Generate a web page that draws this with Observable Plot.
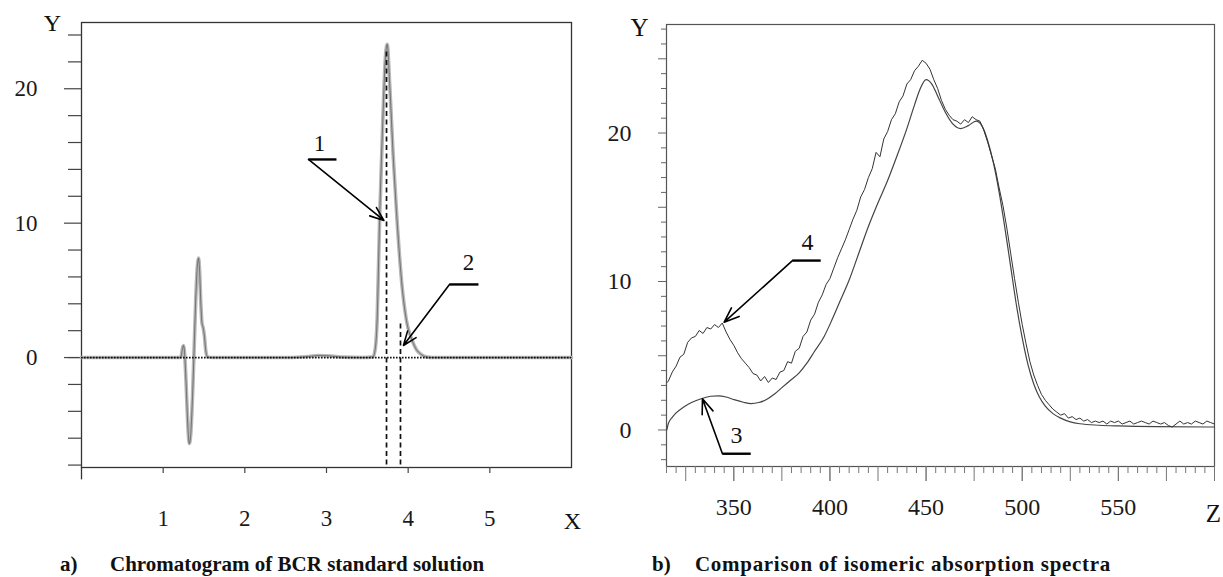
<!DOCTYPE html>
<html><head><meta charset="utf-8">
<script src="https://cdn.jsdelivr.net/npm/d3@7"></script>
<script src="https://cdn.jsdelivr.net/npm/@observablehq/plot@0.6"></script>
<style>
body{margin:0;background:#fff;}
#wrap{position:relative;width:1223px;height:577px;overflow:hidden;background:#fff;}
#left{position:absolute;left:0;top:0;}
#right{position:absolute;left:600px;top:0;}
.cap{position:absolute;font-family:"Liberation Serif",serif;font-weight:bold;font-size:21px;line-height:21px;white-space:pre;color:#111;}
</style></head><body>
<div id="wrap"><div id="left"></div><div id="right"></div>
<div class="cap" style="left:60px;top:554px">a)</div>
<div class="cap" style="left:110px;top:554px">Chromatogram of BCR standard solution</div>
<div class="cap" style="left:652px;top:554px">b)</div>
<div class="cap" style="left:695px;top:554px;letter-spacing:0.7px">Comparison of isomeric absorption spectra</div>
</div>
<script>
// ---------- Panel a: chromatogram ----------
const chromTime = [0,1.20,1.22,1.24,1.25,1.26,1.28,1.30,1.32,1.34,1.36,1.38,1.40,1.42,1.433,1.445,1.46,1.475,1.49,1.505,1.52,1.54,1.60,2.55,2.75,2.90,3.05,3.20,3.45,3.57,3.60,3.62,3.65,3.69,3.72,3.743,3.775,3.815,3.864,3.927,3.979,4.049,4.10,4.151,4.22,4.30,6.0];
const chromSignal = [0,0,0.1,0.8,0.9,0.5,-1.8,-4.8,-6.4,-5.5,-2.8,0.8,4.5,6.9,7.4,6.6,4.2,2.6,2.2,1.6,0.6,0.05,0,0,0.06,0.15,0.12,0.03,0,0.05,0.8,2.8,10.2,17.7,22.2,23.3,20.2,15.2,10.2,5.2,2.76,1.27,0.6,0.27,0.05,0,0];
const peakMarkTime = [3.735, 3.906];
const peakMarkTop = [23.0, 2.6];
const chromLabels = ["1", "2"];
const chromLabelX = [2.914, 4.739];
const chromLabelY = [15.92, 7.08];
const chromLeaderStart = [2.779, 4.506];
const chromLeaderEnd = [3.122, 4.861];
const chromLeaderY = [14.74, 5.44];
const chromArrowTipX = [3.703, 3.942];
const chromArrowTipY = [10.20, 0.90];
const chromXTicks = [1, 2, 3, 4, 5];
const chromYMajor = [0, 10, 20];
const chromYMinor = [-8, -6, -4, -2, 0, 2, 4, 6, 8, 12, 14, 16, 18, 22, 24];

// ---------- Panel b: absorption spectra ----------
const spectrum4 = [[315.3,3.2],[316,3.3],[318,3.9],[320,4.3],[322,4.9],[324,5.1],[326,5.9],[328,6.2],[330,6.3],[332,6.7],[334,6.5],[336,6.9],[338,6.8],[340,7.1],[342,6.9],[344,7.2],[346,6.6],[348,6.1],[350,5.7],[352,5.2],[354,4.8],[356,4.5],[358,4.2],[360,3.8],[362,3.7],[364,3.3],[366,3.6],[368,3.2],[370,3.5],[372,3.4],[374,3.9],[376,4.0],[378,4.6],[380,4.5],[382,5.3],[384,5.5],[386,6.3],[388,6.6],[390,7.4],[392,7.8],[394,8.6],[396,9.1],[398,9.8],[400,10.2],[402,10.9],[404,11.6],[406,12.2],[408,12.8],[410,13.5],[412,14.2],[414,14.8],[416,15.7],[418,16.2],[420,17.0],[422,17.6],[424,18.7],[426,18.4],[428,19.6],[430,20.1],[432,20.9],[434,21.3],[436,22.1],[438,22.5],[440,23.3],[442,23.6],[444,24.2],[446,24.5],[448,24.9],[450,24.7],[452,24.3],[454,23.6],[456,23.0],[458,22.2],[460,21.6],[462,21.2],[464,20.9],[466,20.8],[468,20.6],[470,20.9],[472,20.7],[474,21.1],[476,20.9],[478,20.8],[480,20.2],[482,19.4],[484,18.5],[486,17.6],[488,16.3],[490,15.1],[492,13.6],[494,11.9],[496,10.2],[498,8.6],[500,7.1],[502,5.8],[504,4.6],[506,3.7],[508,3.0],[510,2.4],[512,2.0],[514,1.7],[516,1.4],[518,1.2],[520,1.0],[522,1.1],[524,0.8],[526,0.9],[528,0.7],[530,0.8],[532,0.6],[534,0.7],[536,0.5],[538,0.6],[540,0.5],[542,0.6],[544,0.4],[546,0.6],[548,0.5],[550,0.6],[552,0.4],[554,0.5],[556,0.6],[558,0.4],[560,0.5],[562,0.6],[564,0.5],[566,0.4],[568,0.6],[570,0.5],[572,0.4],[574,0.5],[576,0.3],[578,0.2],[580,0.4],[582,0.6],[584,0.4],[586,0.5],[588,0.4],[590,0.6],[592,0.5],[594,0.4],[596,0.6],[598,0.5],[600,0.4]];
const spectrum3 = [[315.2,0],[316,0.45],[318,0.85],[320,1.15],[324,1.55],[328,1.85],[333,2.1],[338,2.27],[342,2.3],[346,2.22],[350,2.05],[355,1.87],[359,1.78],[363,1.85],[367,2.05],[371,2.4],[375,2.85],[380,3.4],[384,3.85],[388,4.5],[392,5.3],[397,6.3],[401,7.4],[405,8.6],[410,10.1],[415,11.9],[420,13.7],[425,15.3],[430,16.8],[435,18.5],[440,20.3],[444,21.9],[447,23.0],[450,23.6],[453,23.3],[456,22.5],[460,21.4],[464,20.6],[468,20.3],[472,20.5],[476,20.8],[479,20.5],[482,19.5],[485,18.0],[488,16.0],[491,13.6],[494,11.0],[497,8.4],[500,6.2],[503,4.4],[506,3.1],[509,2.2],[512,1.6],[516,1.1],[520,0.8],[525,0.55],[530,0.42],[540,0.32],[550,0.27],[570,0.22],[600,0.2]];
const specLabels = ["4", "3"];
const specLabelX = [388.3, 351.4];
const specLabelY = [12.65, -0.37];
const specLeaderStart = [380.5, 344.1];
const specLeaderEnd = [395.2, 358.8];
const specLeaderY = [11.41, -1.60];
const specArrowTipX = [345.0, 333.7];
const specArrowTipY = [7.26, 2.10];
const specXLabels = [350, 400, 450, 500, 550];
const specXMajor = [325, 350, 375, 400, 425, 450, 475, 500, 525, 550, 575, 600];
const specXMinor = [315,320,330,335,340,345,355,360,365,370,380,385,390,395,405,410,415,420,430,435,440,445,455,460,465,470,480,485,490,495,505,510,515,520,530,535,540,545,555,560,565,570,580,585,590,595];
const specYLabels = [0, 10, 20];
const specYMid = [5, 15, 25];
const specYMinor = [-2,-1,1,2,3,4,6,7,8,9,11,12,13,14,16,17,18,19,21,22,23,24,26,27];

// ---------- build tables ----------
const chrom = chromTime.map((t, i) => ({t, v: chromSignal[i]}));
const peakMarks = peakMarkTime.map((t, i) => ({t, top: peakMarkTop[i]}));
const chromAnn = chromLabels.map((s, i) => ({s, lx: chromLabelX[i], ly: chromLabelY[i], a: chromLeaderStart[i], b: chromLeaderEnd[i], y: chromLeaderY[i], tx: chromArrowTipX[i], ty: chromArrowTipY[i]}));
const s4 = spectrum4.map(([w, a]) => ({w, a}));
const s3 = spectrum3.map(([w, a]) => ({w, a}));
const specAnn = specLabels.map((s, i) => ({s, lx: specLabelX[i], ly: specLabelY[i], a: specLeaderStart[i], b: specLeaderEnd[i], y: specLeaderY[i], tx: specArrowTipX[i], ty: specArrowTipY[i]}));

const serif = "'Liberation Serif', serif";

const left = Plot.plot({
  width: 600, height: 540,
  marginLeft: 81, marginRight: 29, marginTop: 22, marginBottom: 73,
  x: {domain: [0, 6], label: null},
  y: {domain: [-8.18, 24.93], label: null},
  style: {fontFamily: serif, fontSize: "23px", color: "#1a1a1a", background: "transparent", overflow: "visible"},
  marks: [
    Plot.frame({stroke: "#333", strokeWidth: 1.3}),
    Plot.ruleX([0], {y1: -8.18, y2: -9.1, stroke: "#333", strokeWidth: 1.3}),
    Plot.axisY(chromYMinor, {tickSize: 13, tickFormat: () => "", stroke: "#444", strokeWidth: 1.2, label: null}),
    Plot.axisY(chromYMajor, {tickSize: 17, tickPadding: 27, stroke: "#444", strokeWidth: 1.2, fontSize: 23, label: null}),
    Plot.axisX(chromXTicks, {tickSize: 6, tickPadding: 36, stroke: "#444", strokeWidth: 1.2, fontSize: 23, label: null}),
    Plot.line(chrom, {x: "t", y: "v", stroke: "#b8b8b8", strokeWidth: 3.6, curve: "monotone-x"}),
    Plot.line(chrom, {x: "t", y: "v", stroke: "#333", strokeWidth: 0.7, strokeOpacity: 0.75, curve: "monotone-x"}),
    Plot.ruleY([0], {stroke: "#111", strokeWidth: 1.7, strokeDasharray: "1.6,1.4"}),
    Plot.ruleX(peakMarks, {x: "t", y1: -8.0, y2: "top", stroke: "#111", strokeWidth: 1.7, strokeDasharray: "5,3.5"}),
    Plot.link(chromAnn, {x1: "a", x2: "b", y1: "y", y2: "y", stroke: "#000", strokeWidth: 2.4}),
    Plot.arrow(chromAnn, {x1: "a", y1: "y", x2: "tx", y2: "ty", stroke: "#000", strokeWidth: 1.6, headLength: 14, headAngle: 42}),
    Plot.text(chromAnn, {x: "lx", y: "ly", text: "s", fontSize: 23, textAnchor: "middle", lineAnchor: "middle", fill: "#111"}),
    Plot.text(["Y"], {frameAnchor: "top-left", dx: -29, dy: 1, textAnchor: "middle", lineAnchor: "middle", fontSize: 24, fill: "#111"}),
    Plot.text(["X"], {frameAnchor: "bottom-right", dx: 1, dy: 54, textAnchor: "middle", lineAnchor: "middle", fontSize: 24, fill: "#111"})
  ]
});
document.getElementById("left").append(left);

const right = Plot.plot({
  width: 623, height: 540,
  marginLeft: 66, marginRight: 9, marginTop: 24, marginBottom: 74,
  x: {domain: [315, 600], label: null},
  y: {domain: [-2.46, 27.31], label: null},
  style: {fontFamily: serif, fontSize: "24px", color: "#1a1a1a", background: "transparent", overflow: "visible"},
  marks: [
    Plot.frame({stroke: "#555", strokeWidth: 1.2}),
    Plot.axisY(specYMinor, {tickSize: 5, tickFormat: () => "", stroke: "#666", strokeWidth: 1, label: null}),
    Plot.axisY(specYMid, {tickSize: 8, tickFormat: () => "", stroke: "#666", strokeWidth: 1, label: null}),
    Plot.axisY(specYLabels, {tickSize: 8, tickPadding: 27, stroke: "#666", strokeWidth: 1, fontSize: 24, label: null}),
    Plot.axisX(specXMinor, {tickSize: 7, tickFormat: () => "", stroke: "#777", strokeWidth: 1, label: null}),
    Plot.axisX(specXMajor, {tickSize: 15, tickFormat: () => "", stroke: "#777", strokeWidth: 1, label: null}),
    Plot.axisX(specXLabels, {tickSize: 15, tickPadding: 16, stroke: "#777", strokeWidth: 1, fontSize: 24, label: null}),
    Plot.line(s3, {x: "w", y: "a", stroke: "#444", strokeWidth: 1.2, curve: "monotone-x"}),
    Plot.line(s4, {x: "w", y: "a", stroke: "#333", strokeWidth: 1.0}),
    Plot.link(specAnn, {x1: "a", x2: "b", y1: "y", y2: "y", stroke: "#000", strokeWidth: 2.4}),
    Plot.arrow(specAnn, {x1: "a", y1: "y", x2: "tx", y2: "ty", stroke: "#000", strokeWidth: 1.6, headLength: 15, headAngle: 42}),
    Plot.text(specAnn, {x: "lx", y: "ly", text: "s", fontSize: 24, textAnchor: "middle", lineAnchor: "middle", fill: "#111"}),
    Plot.text(["Y"], {frameAnchor: "top-left", dx: -27, dy: 3, textAnchor: "middle", lineAnchor: "middle", fontSize: 25, fill: "#111"}),
    Plot.text(["Z"], {frameAnchor: "bottom-right", dx: -1, dy: 47, textAnchor: "middle", lineAnchor: "middle", fontSize: 25, fill: "#111"})
  ]
});
document.getElementById("right").append(right);
</script>
</body></html>
